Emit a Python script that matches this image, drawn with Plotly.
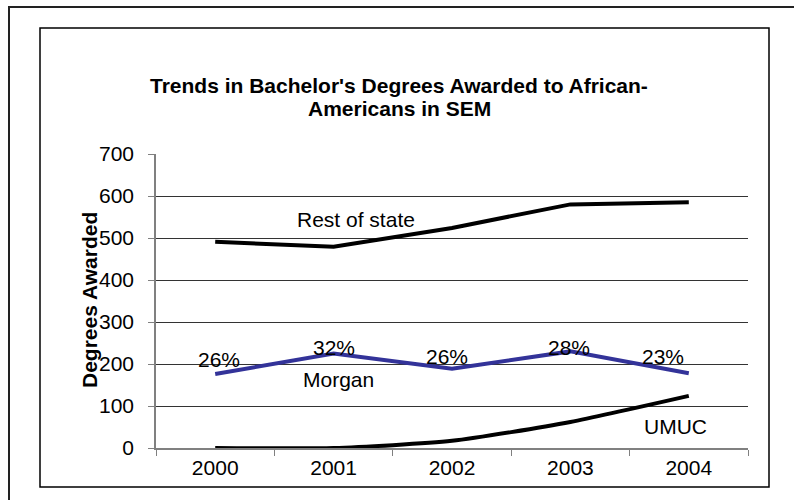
import plotly.graph_objects as go

years = ["2000", "2001", "2002", "2003", "2004"]
rest_of_state = [491, 479, 524, 580, 585]
morgan = [176, 225, 189, 230, 178]
umuc = [0, 0, 17, 62, 124]
morgan_pct = ["26%", "32%", "26%", "28%", "23%"]
title_lines = ["Trends in Bachelor's Degrees Awarded to African-", "Americans in SEM"]
y_title = "Degrees Awarded"

FONT = "Liberation Sans, Arial, sans-serif"
W, H = 794, 500
L, R, T, B = 156, 46, 154, 52
PW, PH = W - L - R, H - T - B

def px(x):
    return (x - L) / PW

def py(y):
    return (H - B - y) / PH

fig = go.Figure()
fig.add_trace(go.Scatter(x=years, y=rest_of_state, mode="lines",
                         line=dict(color="black", width=4), showlegend=False))
fig.add_trace(go.Scatter(x=years, y=morgan, mode="lines",
                         line=dict(color="#333399", width=4), showlegend=False))
fig.add_trace(go.Scatter(x=years, y=umuc, mode="lines",
                         line=dict(color="black", width=4, shape="spline", smoothing=0.6),
                         showlegend=False))

pct_offsets = [0.03, 0.0, -0.04, -0.01, -0.22]
pct_y = [210, 240, 219, 240, 219]
for i, t in enumerate(morgan_pct):
    fig.add_annotation(x=i + pct_offsets[i], y=pct_y[i], text=t, showarrow=False,
                       font=dict(family=FONT, size=21, color="black"))

fig.add_annotation(x=1.19, y=545, text="Rest of state", showarrow=False,
                   font=dict(family=FONT, size=21, color="black"))
fig.add_annotation(x=1.04, y=162, text="Morgan", showarrow=False,
                   font=dict(family=FONT, size=21, color="black"))
fig.add_annotation(x=3.89, y=52, text="UMUC", showarrow=False,
                   font=dict(family=FONT, size=21, color="black"))

fig.add_annotation(xref="paper", yref="paper", x=px(89), y=py(300), text="<b>" + y_title + "</b>",
                   textangle=-90, showarrow=False, xanchor="center", yanchor="middle",
                   font=dict(family=FONT, size=21, color="black"))

for line, yc in zip(title_lines, [85, 109]):
    fig.add_annotation(xref="paper", yref="paper", x=px(399), y=py(yc), text="<b>" + line + "</b>",
                       showarrow=False, xanchor="center", yanchor="middle",
                       font=dict(family=FONT, size=21, color="black"))

fig.update_layout(
    width=W, height=H,
    margin=dict(l=L, r=R, t=T, b=B),
    paper_bgcolor="white", plot_bgcolor="white",
    font=dict(family=FONT, size=21, color="black"),
    shapes=[
        dict(type="rect", xref="paper", yref="paper", x0=px(9), x1=px(810),
             y0=py(515), y1=py(7), line=dict(color="#222222", width=2), layer="above"),
        dict(type="rect", xref="paper", yref="paper", x0=px(40), x1=px(769),
             y0=py(487), y1=py(28), line=dict(color="black", width=1.5), layer="above"),
    ],
)
fig.update_xaxes(type="category", tickson="boundaries", ticks="outside", ticklen=6,
                 tickcolor="#808080", showline=True, linecolor="#808080", linewidth=1.5,
                 showgrid=False, tickfont=dict(family=FONT, size=21, color="black"),
                 range=[-0.5, 4.5])
fig.update_yaxes(range=[0, 700], dtick=100, ticks="outside", ticklen=6, tickcolor="#808080",
                 showline=True, linecolor="#808080", linewidth=1.5, ticklabelstandoff=10,
                 showgrid=True, gridcolor="#333333", gridwidth=1, zeroline=False,
                 tickfont=dict(family=FONT, size=21, color="black"))

fig.write_html("out.html", config={"displayModeBar": False},
               post_script="document.body.style.margin='0px';")
